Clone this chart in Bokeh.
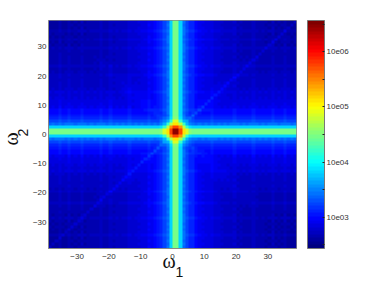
import numpy as np
from bokeh.plotting import figure
from bokeh.embed import file_html
from bokeh.resources import INLINE
from bokeh.models import LinearColorMapper, ColorBar, FixedTicker, Label

# log10 of the values
cell_edges = list(range(-39, 40))
peak_at = 1.0
side_profile = [4.45, 3.80, 3.39, 3.23, 3.12, 3.03, 2.97, 2.92, 2.88, 2.85, 2.82, 2.80, 2.78, 2.76, 2.74,
                2.72, 2.71, 2.70, 2.69, 2.68, 2.67, 2.66, 2.65, 2.65, 2.64, 2.64, 2.63, 2.63, 2.62, 2.62,
                2.62, 2.61, 2.61, 2.61, 2.60, 2.60, 2.60, 2.60, 2.60, 2.60]
radial_profile = [3.5, 3.4, 3.3, 3.25, 3.2, 3.15, 3.1, 3.05, 3.0, 2.97, 2.95, 2.92, 2.9, 2.87, 2.85,
                  2.82, 2.8, 2.78, 2.76, 2.74, 2.72, 2.71, 2.7, 2.69, 2.68, 2.67, 2.66, 2.65, 2.64, 2.63,
                  2.62, 2.62, 2.61, 2.61, 2.6, 2.6, 2.6, 2.6, 2.6, 2.6]
centre_table = [[6.50, 5.75, 5.10, 4.85, 4.55],
                [5.75, 5.45, 4.70, 4.20, 3.90],
                [5.10, 4.70, 4.20, 3.70, 3.50],
                [4.85, 4.20, 3.70, 3.50, 3.35],
                [4.55, 3.90, 3.50, 3.35, 3.20]]
faint_columns = [-36, -33, -29, -23, -20, -14, -8, 6, 12, 19, 25, 31, 35]
faint_rows = [-35, -29, -24, -20, -13, -7, 8, 14, 20, 23, 29, 32, 35]
faint_lift = 0.05
hatch_lift = [0.0, 0.02]
diagonal_lift = 0.15
x_ticks = [-30, -20, -10, 0, 10, 20, 30]
y_ticks = [-30, -20, -10, 0, 10, 20, 30]
bar_ticks = [2.5, 3.0, 3.5, 4.0, 4.5, 5.0, 5.5, 6.0, 6.5]
bar_labels = {3.0: "10e03", 4.0: "10e04", 5.0: "10e05", 6.0: "10e06"}
log_low, log_high = 2.43, 6.57

centres = [(a + b) / 2 for a, b in zip(cell_edges[:-1], cell_edges[1:])]
n = len(centres)
Z = np.zeros((n, n))
for r, wy in enumerate(centres):
    for c, wx in enumerate(centres):
        d1 = int(abs(wx - peak_at))
        d2 = int(abs(wy - peak_at))
        v = max(side_profile[d1], side_profile[d2], radial_profile[max(d1, d2)])
        if d1 < 5 and d2 < 5:
            v = max(v, centre_table[d1][d2])
        if v < 3.6:
            if int(np.floor(wx)) in faint_columns:
                v += faint_lift
            if int(np.floor(wy)) in faint_rows:
                v += faint_lift
            v += hatch_lift[(r - c) % 2]
            if r == c:
                v += diagonal_lift
        Z[r, c] = v

anchors = [0, 0.125, 0.375, 0.625, 0.875, 1]
red = np.interp(np.linspace(0, 1, 64), anchors, [0, 0, 0, 1, 1, 0.5])
green = np.interp(np.linspace(0, 1, 64), anchors, [0, 0, 1, 1, 0, 0])
blue = np.interp(np.linspace(0, 1, 64), anchors, [0.5, 1, 1, 0, 0, 0])
jet = ["#%02x%02x%02x" % (int(a * 255), int(b * 255), int(d * 255)) for a, b, d in zip(red, green, blue)]
mapper = LinearColorMapper(palette=jet, low=log_low, high=log_high)

TXT = "#333333"
p = figure(width=374, height=281, frame_width=248, frame_height=228, x_range=(-39, 39), y_range=(-39, 39),
           output_backend="svg", toolbar_location=None, tools="",
           min_border_left=48, min_border_top=20, min_border_bottom=0, min_border_right=0,
           outline_line_color="#888888", background_fill_color="white")
p.image(image=[Z], x=-39, y=-39, dw=78, dh=78, color_mapper=mapper)
p.grid.visible = False
for ax, ticks in ((p.xaxis, x_ticks), (p.yaxis, y_ticks)):
    ax.ticker = FixedTicker(ticks=ticks)
    ax.major_label_text_font = "Liberation Sans"
    ax.major_label_text_font_size = "8px"
    ax.major_label_text_color = TXT
    ax.major_tick_in = 0
    ax.major_tick_out = 0
    ax.minor_tick_line_color = None
    ax.axis_line_color = "#888888"
p.xaxis.major_label_standoff = 5
p.yaxis.major_label_standoff = 2

cb = ColorBar(color_mapper=mapper, width=17, height=228, padding=0, margin=0, location=(11, 0),
              ticker=FixedTicker(ticks=bar_ticks),
              major_label_overrides={t: bar_labels.get(t, "") for t in bar_ticks},
              major_label_text_font="Liberation Sans", major_label_text_font_size="8px",
              major_label_text_color=TXT, major_tick_line_color="#222222",
              major_tick_in=2, major_tick_out=0, minor_tick_line_color=None,
              bar_line_color="#777777", border_line_color=None, background_fill_color=None, label_standoff=2)
p.add_layout(cb, "right")


def lab(x, y, t, size, font, angle=0.0):
    p.add_layout(Label(x=x, y=y, x_units="screen", y_units="screen", text=t, angle=angle,
                       text_font=font, text_font_size=size, text_color="#111111"), "below")


lab(114, 12, "ω", "20px", "Liberation Serif")
lab(127, 17, "1", "14px", "Liberation Sans")
lab(-27, 161, "ω", "20px", "Liberation Serif", np.pi / 2)
lab(-21, 178, "2", "14px", "Liberation Sans", np.pi / 2)

open("out.html", "w").write(file_html(p, INLINE))
